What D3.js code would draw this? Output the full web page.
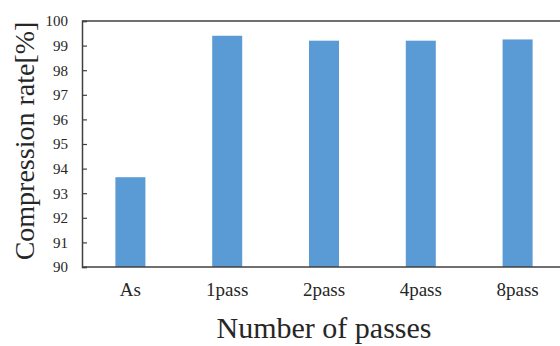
<!DOCTYPE html>
<html lang="en">
	<head>
		<meta charset="utf-8">
		<title>Compression rate</title>
		<script src="https://d3js.org/d3.v7.min.js"></script>
		<style type="text/css">
body { margin: 0; background: #fff; }
text { font-family: "Liberation Serif", "Times New Roman", serif; fill: #262626; }
		</style>
	</head>
	<body>
<div id="chart"></div>
		<script type="text/javascript">
// data
var passes = ["As", "1pass", "2pass", "4pass", "8pass"];
var rates = [93.65, 99.4, 99.2, 99.2, 99.25];
var yTicks = [90, 91, 92, 93, 94, 95, 96, 97, 98, 99, 100];

var w = 560;
var h = 346;
var plotLeft = 82, plotTop = 21, plotRight = 566, plotBottom = 267;

var xScale = d3.scaleBand()
	.domain(passes)
	.range([plotLeft, plotRight])
	.paddingInner(0.69)
	.paddingOuter(0.345);

var yScale = d3.scaleLinear()
	.domain([90, 100])
	.range([plotBottom, plotTop]);

var svg = d3.select("#chart")
	.append("svg")
	.attr("width", w)
	.attr("height", h);

//bars
svg.selectAll("rect.bar")
	.data(passes)
	.enter()
	.append("rect")
	.attr("class", "bar")
	.attr("x", d => xScale(d))
	.attr("width", xScale.bandwidth())
	.attr("y", (d, i) => yScale(rates[i]))
	.attr("height", (d, i) => plotBottom - yScale(rates[i]))
	.attr("fill", "#5B9BD5");

//frame (top line)
svg.append("line")
	.attr("x1", plotLeft).attr("x2", w)
	.attr("y1", plotTop).attr("y2", plotTop)
	.attr("stroke", "#404040")
	.attr("stroke-width", 1.5);

//Y axis, ticks pointing inward
var yAxis = d3.axisRight(yScale)
	.tickValues(yTicks)
	.tickSize(5)
	.tickFormat(d3.format("d"));

var gy = svg.append("g")
	.attr("transform", "translate(" + plotLeft + ",0)")
	.call(yAxis);
gy.attr("font-family", null);
gy.select(".domain").attr("stroke", "#404040").attr("stroke-width", 1.5);
gy.selectAll(".tick line").attr("stroke", "#404040").attr("stroke-width", 1.2);
gy.selectAll(".tick text")
	.attr("x", -14)
	.attr("text-anchor", "end")
	.style("font-family", "'Liberation Serif', serif")
	.style("font-size", "15px")
	.attr("fill", "#262626");

//X axis
var xAxis = d3.axisBottom(xScale).tickSize(0).tickPadding(16);
var gx = svg.append("g")
	.attr("transform", "translate(0," + plotBottom + ")")
	.call(xAxis);
gx.attr("font-family", null);
gx.select(".domain").attr("stroke", "#404040").attr("stroke-width", 1.5)
	.attr("d", "M" + plotLeft + ",0H" + w);
gx.selectAll(".tick text")
	.style("font-family", "'Liberation Serif', serif")
	.style("font-size", "19px")
	.attr("fill", "#262626");

//axis titles
svg.append("text")
	.attr("transform", "translate(34," + ((plotTop + plotBottom) / 2 - 3) + ") rotate(-90)")
	.attr("text-anchor", "middle")
	.style("font-size", "28px")
	.text("Compression rate[%]");

svg.append("text")
	.attr("x", 324)
	.attr("y", 338)
	.attr("text-anchor", "middle")
	.style("font-size", "30px")
	.text("Number of passes");
		</script>
	</body>
</html>
